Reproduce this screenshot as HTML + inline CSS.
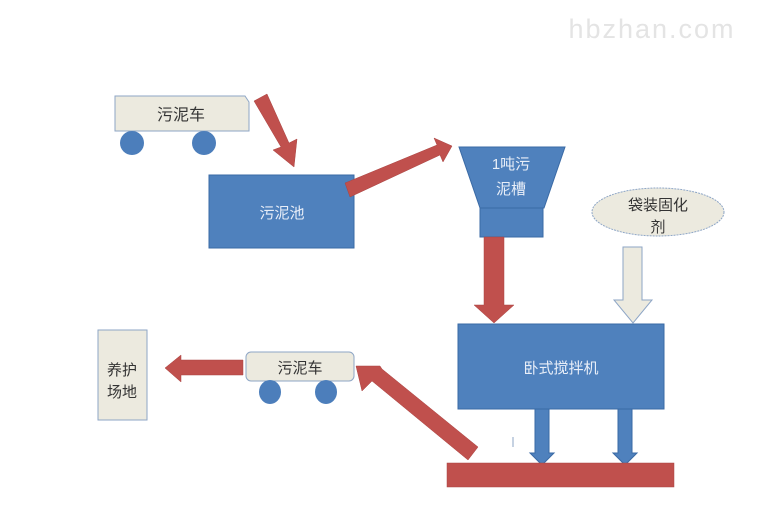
<!DOCTYPE html>
<html><head><meta charset="utf-8"><style>
body{margin:0;background:#fff;}
svg{display:block;font-family:"Liberation Sans","Noto Sans CJK SC",sans-serif;}
</style></head><body>
<svg width="762" height="508" viewBox="0 0 762 508">
<text x="652" y="38" font-size="27" fill="#e4e4e4" text-anchor="middle" letter-spacing="2">hbzhan.com</text>
<path d="M115,96 L245,96 L249,102 L249,131 L115,131 Z" fill="#eceadf" stroke="#8ea6c6" stroke-width="1"/>
<circle cx="132" cy="143" r="12" fill="#4c7ebb"/>
<circle cx="204" cy="143" r="12" fill="#4c7ebb"/>
<text x="181" y="120" font-size="16" fill="#333" text-anchor="middle">污泥车</text>
<polygon points="254,101 267,94 289,143 297,139 294,167 273,150 281,147" fill="#c0504d" stroke="#a94442" stroke-width="0.5"/>
<rect x="209" y="175" width="145" height="73" fill="#4f81bd" stroke="#3a6aa5"/>
<text x="282" y="218" font-size="15" fill="#e8eef8" text-anchor="middle">污泥池</text>
<polygon points="345,183 437,145 434,138 452,146 443,162 440,155 350,197" fill="#c0504d" stroke="#a94442" stroke-width="0.5"/>
<polygon points="459,147 565,147 544,208 480,208" fill="#4f81bd" stroke="#3a6aa5"/>
<rect x="480" y="208" width="63" height="29" fill="#4f81bd" stroke="#3a6aa5"/>
<text x="511" y="169" font-size="15" fill="#e8eef8" text-anchor="middle">1吨污</text>
<text x="511" y="194" font-size="15" fill="#e8eef8" text-anchor="middle">泥槽</text>
<ellipse cx="658" cy="212" rx="66" ry="24" fill="#eceadf" stroke="#8ea6c6" stroke-dasharray="2,1"/>
<text x="658" y="210" font-size="15" fill="#333" text-anchor="middle">袋装固化</text>
<text x="658" y="232" font-size="15" fill="#333" text-anchor="middle">剂</text>
<polygon points="623,247 642,247 642,300 652,300 633,323 614,300 623,300" fill="#eceadf" stroke="#8ea6c6"/>
<polygon points="484,237 504,237 504,305 514,305 494,323 474,305 484,305" fill="#c0504d" stroke="#a94442" stroke-width="0.5"/>
<rect x="458" y="324" width="206" height="85" fill="#4f81bd" stroke="#3a6aa5"/>
<text x="561" y="373" font-size="15" fill="#e8eef8" text-anchor="middle">卧式搅拌机</text>
<polygon points="535,409 549,409 549,453 554,453 542,465 530,453 535,453" fill="#4f81bd" stroke="#3a6aa5"/>
<polygon points="618,409 632,409 632,453 637,453 625,465 613,453 618,453" fill="#4f81bd" stroke="#3a6aa5"/>
<line x1="513" y1="437" x2="513" y2="447" stroke="#8ea6c6"/>
<rect x="447" y="463" width="227" height="24" fill="#c0504d" stroke="#a94442" stroke-width="0.5"/>
<polygon points="478,447 468,460 372,381 362,391 356,366 380,366 382,369" fill="#c0504d" stroke="#a94442" stroke-width="0.5"/>
<rect x="246" y="352" width="108" height="29" rx="5" fill="#eceadf" stroke="#8ea6c6"/>
<ellipse cx="270" cy="392" rx="11" ry="12" fill="#4c7ebb"/>
<ellipse cx="326" cy="392" rx="11" ry="12" fill="#4c7ebb"/>
<text x="300" y="373" font-size="15" fill="#333" text-anchor="middle">污泥车</text>
<polygon points="243,360 243,375 181,375 181,382 165,368 181,355 181,360" fill="#c0504d" stroke="#a94442" stroke-width="0.5"/>
<rect x="98" y="330" width="49" height="90" fill="#eceadf" stroke="#8ea6c6"/>
<text x="122" y="375" font-size="15" fill="#333" text-anchor="middle">养护</text>
<text x="122" y="397" font-size="15" fill="#333" text-anchor="middle">场地</text>
</svg>
</body></html>
